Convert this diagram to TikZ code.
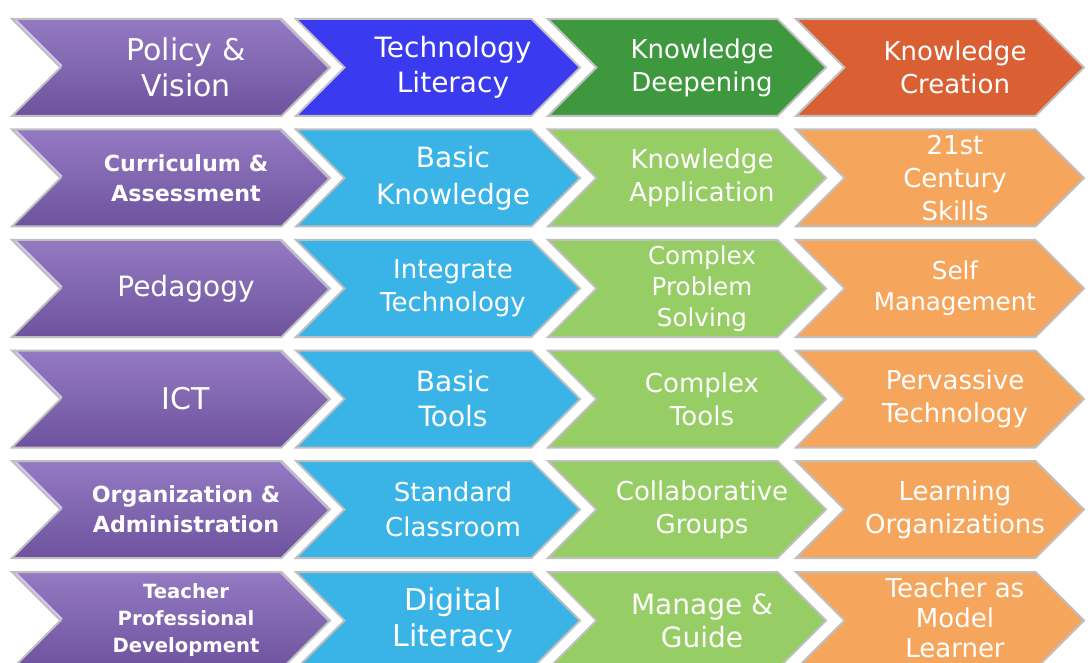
\documentclass[tikz,border=0pt]{standalone}
\usepackage{fontspec}
\setmainfont{DejaVu Sans}
\usepackage{tikz}
\usetikzlibrary{shapes.symbols}

\definecolor{purpletop}{RGB}{148,122,194}
\definecolor{purplebot}{RGB}{110,82,158}
\definecolor{purplehi}{RGB}{214,198,238}
\definecolor{headblue}{RGB}{58,58,240}
\definecolor{headgreen}{RGB}{62,152,62}
\definecolor{headorange}{RGB}{218,96,52}
\definecolor{litblue}{RGB}{58,180,230}
\definecolor{deepgreen}{RGB}{150,205,100}
\definecolor{createorange}{RGB}{246,166,92}

\begin{document}
\begin{tikzpicture}[x=0.5pt, y=-0.5pt,
  every label/.style={text=white, align=center, inner sep=0pt, xshift=7.5pt},
  chev/.style={signal, signal from=west, signal to=east, draw=gray!50, line width=1pt, minimum height=48.5pt, inner sep=0pt},
  dimbox/.style={chev, minimum width=159pt, top color=purpletop, bottom color=purplebot,
    path picture={\draw[purplehi, line width=3pt] (path picture bounding box.north west) -- ([xshift=24.25pt]path picture bounding box.west);
      \draw[purplehi!70!purpletop, line width=2pt] ([xshift=-24.25pt]path picture bounding box.north east) -- (path picture bounding box.east);}},
  litbox/.style={chev, minimum width=142pt, fill=litblue},
  deepbox/.style={chev, minimum width=139pt, fill=deepgreen},
  createbox/.style={chev, minimum width=144pt, fill=createorange},
  hugetext/.style={font=\fontsize{15}{18}\selectfont},
  bigtext/.style={font=\fontsize{14}{17.5}\selectfont},
  midtext/.style={font=\fontsize{13}{16.5}\selectfont},
  smalltext/.style={font=\fontsize{12.3}{15.5}\selectfont},
  boldtext/.style={font=\bfseries\fontsize{11.1}{15}\selectfont},
  tinytext/.style={font=\bfseries\fontsize{9.8}{13.5}\selectfont}]
\useasboundingbox (0,0) rectangle (1092,663);
% stages
\node[dimbox,label={[hugetext]center:{Policy \&\\Vision}}] (policy) at (171,67.5) {};
\node[litbox,fill=headblue,label={[bigtext]center:{Technology\\Literacy}}] (techlit) at (438,67.5) {};
\node[deepbox,fill=headgreen,label={[midtext]center:{Knowledge\\Deepening}}] (deepen) at (687,67.5) {};
\node[createbox,fill=headorange,label={[midtext]center:{Knowledge\\Creation}}] (creation) at (940,67.5) {};
% curriculum
\node[dimbox,label={[boldtext]center:{Curriculum \&\\Assessment}}] (curriculum) at (171,178) {};
\node[litbox,label={[bigtext,font=\fontsize{14}{18.5}\selectfont]center:{Basic\\Knowledge}}] (basic) at (438,178) {};
\node[deepbox,label={[midtext]center:{Knowledge\\Application}}] (application) at (687,178) {};
\node[createbox,label={[midtext]center:{21st\\Century\\Skills}}] (skills) at (940,178) {};
% pedagogy
\node[dimbox,label={[bigtext]center:{Pedagogy}}] (pedagogy) at (171,288.5) {};
\node[litbox,label={[midtext]center:{Integrate\\Technology}}] (integrate) at (438,288.5) {};
\node[deepbox,label={[smalltext]center:{Complex\\Problem\\Solving}}] (problem) at (687,288.5) {};
\node[createbox,label={[smalltext]center:{Self\\Management}}] (selfman) at (940,288.5) {};
% ict
\node[dimbox,label={[hugetext]center:{ICT}}] (ict) at (171,399) {};
\node[litbox,label={[bigtext]center:{Basic\\Tools}}] (basictools) at (438,399) {};
\node[deepbox,label={[midtext]center:{Complex\\Tools}}] (complextools) at (687,399) {};
\node[createbox,label={[midtext]center:{Pervassive\\Technology}}] (pervasive) at (940,399) {};
% organization
\node[dimbox,label={[boldtext]center:{Organization \&\\Administration}}] (organization) at (171,509.5) {};
\node[litbox,label={[midtext,font=\fontsize{13}{17.5}\selectfont]center:{Standard\\Classroom}}] (classroom) at (438,509.5) {};
\node[deepbox,label={[midtext]center:{Collaborative\\Groups}}] (groups) at (687,509.5) {};
\node[createbox,label={[midtext]center:{Learning\\Organizations}}] (learning) at (940,509.5) {};
% professional development
\node[dimbox,label={[tinytext]center:{Teacher\\Professional\\Development}}] (develop) at (171,620.5) {};
\node[litbox,label={[hugetext]center:{Digital\\Literacy}}] (digital) at (438,620.5) {};
\node[deepbox,label={[bigtext,font=\fontsize{14}{16.5}\selectfont]center:{Manage \&\\Guide}}] (guide) at (687,620.5) {};
\node[createbox,label={[midtext,font=\fontsize{13}{15}\selectfont,yshift=1.5pt]center:{Teacher as\\Model\\Learner}}] (model) at (940,620.5) {};
\end{tikzpicture}
\end{document}
